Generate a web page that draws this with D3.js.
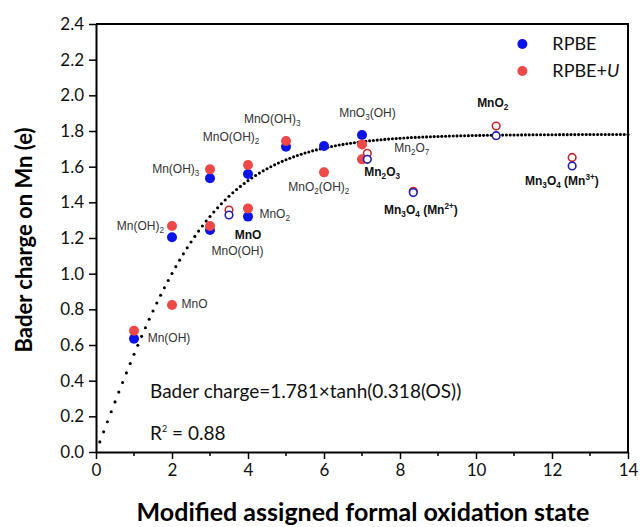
<!DOCTYPE html>
<html>
<head>
<meta charset="utf-8">
<script src="https://cdn.jsdelivr.net/npm/d3@7"></script>
<style>
  body { margin: 0; background: #fff; }
  svg { display: block; }
  .tick-label { font-family: Lato, "Open Sans", sans-serif; font-size: 17px; fill: #111; }
  .axis-title { font-family: Lato, "Open Sans", sans-serif; font-weight: bold; fill: #000; }
  .pt-label { font-family: "Liberation Sans", Arial, sans-serif; font-size: 12px; fill: #333; }
  .pt-label.bold { font-weight: bold; fill: #111; }
  .note { font-family: Lato, "Open Sans", sans-serif; font-size: 19px; fill: #111; }
  .legend-text { font-family: Lato, "Open Sans", sans-serif; font-size: 18px; fill: #111; }
</style>
</head>
<body>
<div id="chart"></div>
<script>
// RPBE and RPBE+U Bader charges (filled: molecular species, open: bulk oxides)
var rpbeMolecular = [
  {os: 1, q: 0.635}, {os: 2, q: 1.204}, {os: 3, q: 1.245}, {os: 3, q: 1.535},
  {os: 4, q: 1.320}, {os: 4, q: 1.559}, {os: 5, q: 1.712}, {os: 6, q: 1.716},
  {os: 7, q: 1.778}
];
var rpbeUMolecular = [
  {os: 1, q: 0.680}, {os: 2, q: 0.824}, {os: 2, q: 1.267}, {os: 3, q: 1.267},
  {os: 3, q: 1.585}, {os: 4, q: 1.366}, {os: 4, q: 1.609}, {os: 5, q: 1.744},
  {os: 6, q: 1.568}, {os: 7, q: 1.725}, {os: 7, q: 1.641}
];
var rpbeBulk = [
  {os: 3.5, q: 1.329}, {os: 7.14, q: 1.641}, {os: 8.35, q: 1.455},
  {os: 10.53, q: 1.774}, {os: 12.53, q: 1.604}
];
var rpbeUBulk = [
  {os: 3.5, q: 1.357}, {os: 7.14, q: 1.675}, {os: 8.35, q: 1.462},
  {os: 10.53, q: 1.828}, {os: 12.53, q: 1.652}
];
// fit shown on the chart: q = A * tanh(B * OS)
var fitA = 1.781, fitB = 0.318;
var fitOS = d3.range(1, 141).map(function (k) { return k / 10; });

var xTicks = [0, 2, 4, 6, 8, 10, 12, 14];
var xMinorTicks = [1, 3, 5, 7, 9, 11, 13];
var yTicks = [0, 0.2, 0.4, 0.6, 0.8, 1.0, 1.2, 1.4, 1.6, 1.8, 2.0, 2.2, 2.4];

// species labels: text, anchor point in data units, alignment
var labels = [
  {t: "Mn(OH)", os: 1.36, q: 0.615, a: "start"},
  {t: "MnO", os: 2.25, q: 0.81, a: "start"},
  {t: "Mn(OH)_2", os: 1.79, q: 1.245, a: "end"},
  {t: "Mn(OH)_3", os: 2.72, q: 1.565, a: "end"},
  {t: "MnO(OH)_2", os: 4.3, q: 1.745, a: "end"},
  {t: "MnO(OH)_3", os: 5.38, q: 1.845, a: "end"},
  {t: "MnO_2", os: 4.3, q: 1.31, a: "start"},
  {t: "MnO", os: 4.0, q: 1.195, a: "middle", b: true},
  {t: "MnO(OH)", os: 3.04, q: 1.105, a: "start"},
  {t: "MnO_2(OH)_2", os: 5.06, q: 1.465, a: "start"},
  {t: "MnO_3(OH)", os: 6.4, q: 1.88, a: "start"},
  {t: "Mn_2O_7", os: 7.85, q: 1.68, a: "start"},
  {t: "Mn_2O_3", os: 7.06, q: 1.55, a: "start", b: true},
  {t: "Mn_3O_4 (Mn^{2+})", os: 7.58, q: 1.335, a: "start", b: true},
  {t: "MnO_2", os: 10.03, q: 1.935, a: "start", b: true},
  {t: "Mn_3O_4 (Mn^{3+})", os: 11.29, q: 1.495, a: "start", b: true}
];

var legendItems = [
  {name: "RPBE", italic: "", color: "#0a14e8"},
  {name: "RPBE+", italic: "U", color: "#ef4848"}
];

var width = 640, height = 527;
var margin = {top: 24, right: 12, bottom: 75, left: 96};
var w = width - margin.left - margin.right;
var h = height - margin.top - margin.bottom;

var svg = d3.select("#chart").append("svg")
  .attr("width", width)
  .attr("height", height);
var g = svg.append("g")
  .attr("transform", "translate(" + margin.left + "," + margin.top + ")");

var x = d3.scaleLinear().domain([0, 14]).range([0, w]);
var y = d3.scaleLinear().domain([0, 2.4]).range([h, 0]);

// axes
var xAxis = g.append("g")
  .attr("transform", "translate(0," + h + ")")
  .call(d3.axisBottom(x).tickValues(xTicks).tickSize(7).tickSizeOuter(0).tickFormat(d3.format("d")));
xAxis.append("g").selectAll("line")
  .data(xMinorTicks)
  .enter().append("line")
    .attr("x1", d => x(d)).attr("x2", d => x(d))
    .attr("y1", 0).attr("y2", 4)
    .attr("stroke", "#000").attr("stroke-width", 1.5);
var yAxis = g.append("g")
  .call(d3.axisLeft(y).tickValues(yTicks).tickSize(7).tickSizeOuter(0).tickFormat(d3.format(".1f")));

[xAxis, yAxis].forEach(function (ax) {
  ax.select(".domain").attr("stroke", "#000").attr("stroke-width", 2);
  ax.selectAll(".tick line").attr("stroke", "#000").attr("stroke-width", 1.5);
  ax.selectAll(".tick text").attr("class", "tick-label").attr("font-family", null).attr("font-size", null);
});
xAxis.selectAll(".tick text").attr("dy", "0.85em");
yAxis.selectAll(".tick text").attr("x", -12);

// top and right frame
g.append("path")
  .attr("d", "M0,0H" + w + "V" + h)
  .attr("fill", "none")
  .attr("stroke", "#000")
  .attr("stroke-width", 2);

// axis titles
svg.append("text")
  .attr("class", "axis-title")
  .attr("x", margin.left + w / 2 + 1)
  .attr("y", 521)
  .attr("font-size", "25px")
  .attr("text-anchor", "middle")
  .text("Modified assigned formal oxidation state");
svg.append("text")
  .attr("class", "axis-title")
  .attr("font-size", "22px")
  .attr("transform", "translate(32," + (margin.top + h / 2 + 2) + ") rotate(-90)")
  .attr("text-anchor", "middle")
  .text("Bader charge on Mn (e)");

// fit curve drawn as dots
g.append("g").selectAll("circle")
  .data(fitOS)
  .enter().append("circle")
    .attr("cx", d => x(d))
    .attr("cy", d => y(fitA * Math.tanh(fitB * d)))
    .attr("r", 1.55)
    .attr("fill", "#000");

function drawFilled(data, color) {
  g.append("g").selectAll("circle")
    .data(data)
    .enter().append("circle")
      .attr("cx", d => x(d.os))
      .attr("cy", d => y(d.q))
      .attr("r", 5)
      .attr("fill", color);
}
function drawOpen(data, color) {
  g.append("g").selectAll("circle")
    .data(data)
    .enter().append("circle")
      .attr("cx", d => x(d.os))
      .attr("cy", d => y(d.q))
      .attr("r", 3.8)
      .attr("fill", "#fff")
      .attr("stroke", color)
      .attr("stroke-width", 1.6);
}
drawFilled(rpbeMolecular, legendItems[0].color);
drawFilled(rpbeUMolecular, legendItems[1].color);
drawOpen(rpbeUBulk, "#c8282c");
drawOpen(rpbeBulk, "#2020b8");

// labels with sub/superscripts: _X subscript, ^{..} superscript
function addRich(sel, str) {
  var re = /_(\w)|\^\{([^}]*)\}|([^_^]+)/g, m, shift = 0;
  while ((m = re.exec(str)) !== null) {
    var span = sel.append("tspan");
    var target = 0, text;
    if (m[1]) { target = 3; text = m[1]; span.attr("font-size", "0.68em"); }
    else if (m[2]) { target = -5; text = m[2]; span.attr("font-size", "0.68em"); }
    else { text = m[3]; }
    span.attr("dy", target - shift).text(text);
    shift = target;
  }
}
labels.forEach(function (d) {
  var t = g.append("text")
    .attr("class", "pt-label" + (d.b ? " bold" : ""))
    .attr("x", x(d.os))
    .attr("y", y(d.q))
    .attr("text-anchor", d.a);
  addRich(t, d.t);
});

// equation
g.append("text").attr("class", "note")
  .attr("x", 54).attr("y", 374)
  .text("Bader charge=" + fitA + "\u00d7tanh(" + fitB + "(OS))");
var r2 = g.append("text").attr("class", "note")
  .attr("x", 54).attr("y", 416);
r2.append("tspan").text("R");
r2.append("tspan").attr("dy", -8).attr("font-size", "9px").text("2");
r2.append("tspan").attr("dy", 8).text(" = 0.88");

// legend
var legend = g.append("g").attr("transform", "translate(" + (x(11.22)) + "," + (y(2.288)) + ")");
legendItems.forEach(function (d, i) {
  var row = legend.append("g").attr("transform", "translate(0," + (i * 27) + ")");
  row.append("circle").attr("r", 5).attr("fill", d.color);
  var t = row.append("text").attr("class", "legend-text").attr("x", 30).attr("dy", "0.35em");
  t.append("tspan").text(d.name);
  if (d.italic) {
    t.append("tspan").attr("font-style", "italic").text(d.italic);
  }
});
</script>
</body>
</html>
